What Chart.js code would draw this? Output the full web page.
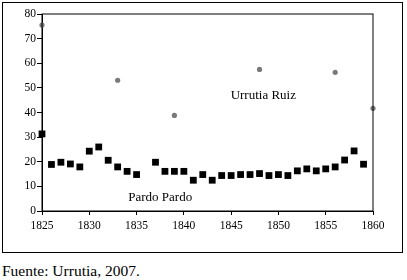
<!DOCTYPE html>
<html lang="es">
<head>
  <meta charset="UTF-8" />
  <title>Urrutia Ruiz / Pardo Pardo</title>
  <script src="https://cdn.jsdelivr.net/npm/chart.js"></script>
  <style>
    body { margin: 0; width: 407px; height: 280px; background: #fff; position: relative; font-family: "Liberation Serif"; }
    .marco { position: absolute; left: 2px; top: 2px; width: 399px; height: 249px; border: 1px solid #000; }
    canvas { position: absolute; left: 0; top: 0; }
    .fuente { position: absolute; left: 2px; top: 262px; margin: 0; font-size: 15.5px; color: #000; }
  </style>
</head>
<body>
  <div class="marco"></div>
  <canvas id="grafico" width="407" height="255"></canvas>
  <p class="fuente">Fuente: Urrutia, 2007.</p>

  <script>
    // Pardo Pardo (cuadrados negros)
    const aniosPardo = [1825, 1826, 1827, 1828, 1829, 1830, 1831, 1832, 1833, 1834, 1835,
      1837, 1838, 1839, 1840, 1841, 1842, 1843, 1844, 1845, 1846, 1847, 1848, 1849, 1850,
      1851, 1852, 1853, 1854, 1855, 1856, 1857, 1858, 1859];
    const valoresPardo = [31.3, 18.9, 19.8, 19.1, 17.9, 24.3, 26.0, 20.6, 17.9, 16.1, 14.8,
      19.8, 16.1, 16.1, 16.1, 12.5, 14.8, 12.5, 14.4, 14.4, 14.8, 14.8, 15.2, 14.4, 14.8,
      14.4, 16.3, 17.1, 16.3, 17.1, 17.9, 20.7, 24.4, 19.0];

    // Urrutia Ruiz (puntos grises)
    const aniosUrrutia = [1825, 1833, 1839, 1848, 1856, 1860];
    const valoresUrrutia = [75.5, 53.1, 38.8, 57.5, 56.3, 41.7];

    const ticksX = [1825, 1830, 1835, 1840, 1845, 1850, 1855, 1860];
    const ticksY = [0, 10, 20, 30, 40, 50, 60, 70, 80];

    const etiquetas = [
      { texto: 'Urrutia Ruiz', x: 1848.4, y: 47 },
      { texto: 'Pardo Pardo', x: 1837.5, y: 5.3 }
    ];

    const familia = '"Liberation Serif"';
    const fuente = { family: familia, size: 11.5 };

    const marcoPlot = {
      id: 'marcoPlot',
      afterDraw(chart) {
        const { ctx, chartArea: a, scales } = chart;
        ctx.save();
        ctx.strokeStyle = '#000';
        ctx.lineWidth = 1;
        ctx.strokeRect(a.left, a.top, a.right - a.left, a.bottom - a.top);
        ctx.fillStyle = '#000';
        ctx.font = '13px ' + familia;
        ctx.textAlign = 'center';
        ctx.textBaseline = 'middle';
        etiquetas.forEach(e => {
          ctx.fillText(e.texto, scales.x.getPixelForValue(e.x), scales.y.getPixelForValue(e.y));
        });
        ctx.restore();
      }
    };

    new Chart(document.getElementById('grafico'), {
      type: 'scatter',
      data: {
        datasets: [
          {
            label: 'Urrutia Ruiz',
            data: aniosUrrutia.map((a, i) => ({ x: a, y: valoresUrrutia[i] })),
            pointStyle: 'circle',
            pointRadius: 2.6,
            backgroundColor: '#7a7a7a',
            borderWidth: 0
          },
          {
            label: 'Pardo Pardo',
            data: aniosPardo.map((a, i) => ({ x: a, y: valoresPardo[i] })),
            pointStyle: 'rect',
            pointRadius: 4.8,
            backgroundColor: '#000',
            borderWidth: 0
          }
        ]
      },
      options: {
        responsive: false,
        animation: false,
        clip: false,
        layout: { padding: { left: 0, top: 14, right: 34, bottom: 10 } },
        plugins: { legend: { display: false }, tooltip: { enabled: false } },
        scales: {
          x: {
            type: 'linear',
            min: 1825,
            max: 1860,
            afterBuildTicks: s => { s.ticks = ticksX.map(v => ({ value: v })); },
            afterFit: s => { s.height = 34; },
            grid: { drawOnChartArea: false, drawTicks: true, tickLength: 4, color: '#000' },
            border: { display: true, color: '#000' },
            ticks: { color: '#000', font: fuente, padding: 4, maxRotation: 0, callback: v => String(v) }
          },
          y: {
            min: 0,
            max: 80,
            afterBuildTicks: s => { s.ticks = ticksY.map(v => ({ value: v })); },
            afterFit: s => { s.width = 42; },
            grid: { drawOnChartArea: false, drawTicks: true, tickLength: 5, color: '#000' },
            border: { display: true, color: '#000' },
            ticks: { color: '#000', font: fuente, padding: 1 }
          }
        }
      },
      plugins: [marcoPlot]
    });
  </script>
</body>
</html>
